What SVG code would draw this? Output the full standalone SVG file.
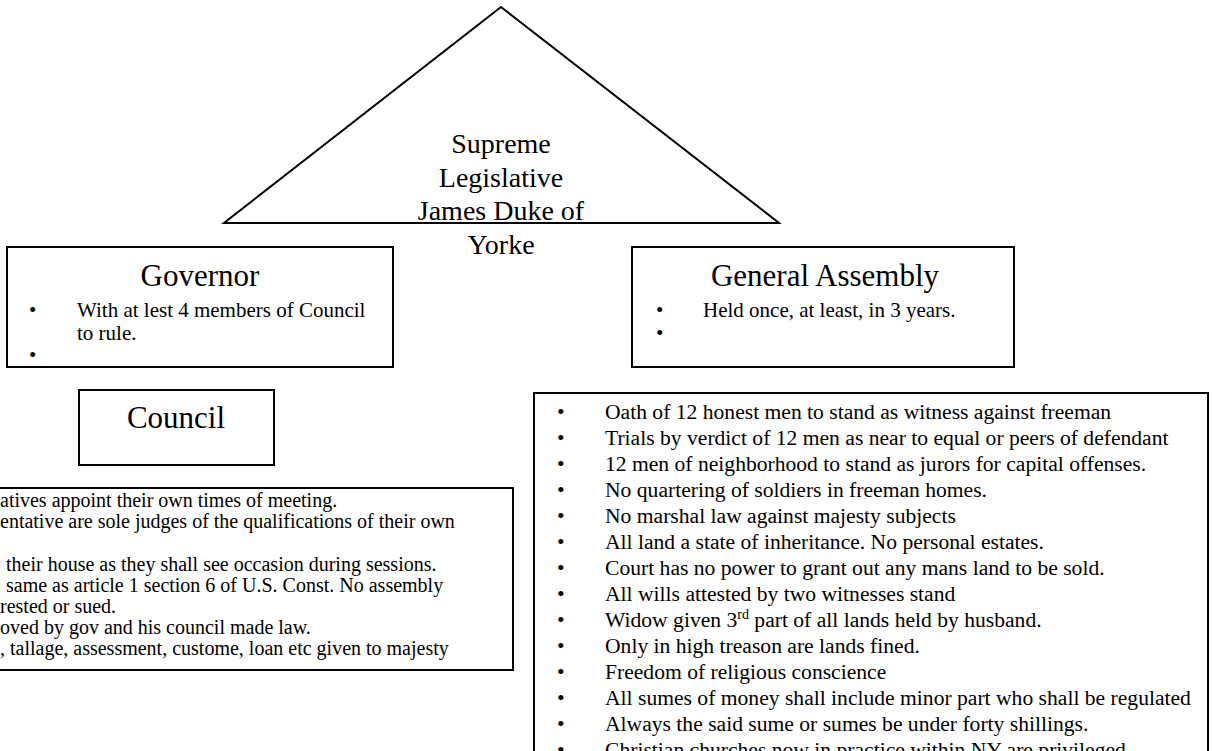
<svg xmlns="http://www.w3.org/2000/svg" width="1212" height="751" viewBox="0 0 1212 751">
<style>
.shape{fill:#fff;stroke:#000;stroke-width:2}
.t{font-family:"Liberation Serif","Times New Roman",serif;fill:#000}
.tri{font-size:28px;text-anchor:middle}
.title{font-size:31px;text-anchor:middle}
.body{font-size:21px}
.list{font-size:21.6px}
.left{font-size:20px}
</style>
<rect width="1212" height="751" fill="#fff"/>
<g id="connectors"></g>
<g id="supreme">
<polygon class="shape" points="501,7 224,223 779,223" stroke-width="2.5"/>
<text class="t tri" x="501" y="153">Supreme</text>
<text class="t tri" x="501" y="187">Legislative</text>
<text class="t tri" x="501" y="220">James Duke of</text>
<text class="t tri" x="501" y="254">Yorke</text>
</g>
<g id="governor">
<rect class="shape" x="7" y="247" width="386" height="120"/>
<text class="t title" x="200" y="286">Governor</text>
<text class="t body" x="29" y="317">•</text>
<text class="t body" x="77" y="317">With at lest 4 members of Council</text>
<text class="t body" x="77" y="340">to rule.</text>
<text class="t body" x="29" y="362">•</text>
</g>
<g id="general-assembly">
<rect class="shape" x="632" y="247" width="382" height="120"/>
<text class="t title" x="825" y="286">General Assembly</text>
<text class="t body" x="656" y="317">•</text>
<text class="t body" x="703" y="317">Held once, at least, in 3 years.</text>
<text class="t body" x="656" y="340">•</text>
</g>
<g id="council">
<rect class="shape" x="79" y="390" width="195" height="75"/>
<text class="t title" x="176" y="428">Council</text>
</g>
<g id="assembly-rights">
<rect class="shape" x="-5" y="488" width="518" height="182"/>
<text class="t left" x="0" y="507">atives appoint their own times of meeting.</text>
<text class="t left" x="0" y="528">entative are sole judges of the qualifications of their own</text>
<text class="t left" x="6" y="571">their house as they shall see occasion during sessions.</text>
<text class="t left" x="6" y="592">same as article 1 section 6 of U.S. Const. No assembly</text>
<text class="t left" x="0" y="613">rested or sued.</text>
<text class="t left" x="0" y="634">oved by gov and his council made law.</text>
<text class="t left" x="0" y="655">, tallage, assessment, custome, loan etc given to majesty</text>
</g>
<g id="freeman-rights">
<rect class="shape" x="534" y="393" width="674" height="380"/>
<g class="t list">
<text x="557" y="419">•</text><text x="605" y="419">Oath of 12 honest men to stand as witness against freeman</text>
<text x="557" y="445">•</text><text x="605" y="445">Trials by verdict of 12 men as near to equal or peers of defendant</text>
<text x="557" y="471">•</text><text x="605" y="471">12 men of neighborhood to stand as jurors for capital offenses.</text>
<text x="557" y="497">•</text><text x="605" y="497">No quartering of soldiers in freeman homes.</text>
<text x="557" y="523">•</text><text x="605" y="523">No marshal law against majesty subjects</text>
<text x="557" y="549">•</text><text x="605" y="549">All land a state of inheritance. No personal estates.</text>
<text x="557" y="575">•</text><text x="605" y="575">Court has no power to grant out any mans land to be sold.</text>
<text x="557" y="601">•</text><text x="605" y="601">All wills attested by two witnesses stand</text>
<text x="557" y="627">•</text><text x="605" y="627">Widow given 3<tspan font-size="14" dy="-8">rd</tspan><tspan dy="8"> part of all lands held by husband.</tspan></text>
<text x="557" y="653">•</text><text x="605" y="653">Only in high treason are lands fined.</text>
<text x="557" y="679">•</text><text x="605" y="679">Freedom of religious conscience</text>
<text x="557" y="705">•</text><text x="605" y="705">All sumes of money shall include minor part who shall be regulated</text>
<text x="557" y="731">•</text><text x="605" y="731">Always the said sume or sumes be under forty shillings.</text>
<text x="557" y="757">•</text><text x="605" y="757">Christian churches now in practice within NY are privileged</text>
</g>
</g>
</svg>
